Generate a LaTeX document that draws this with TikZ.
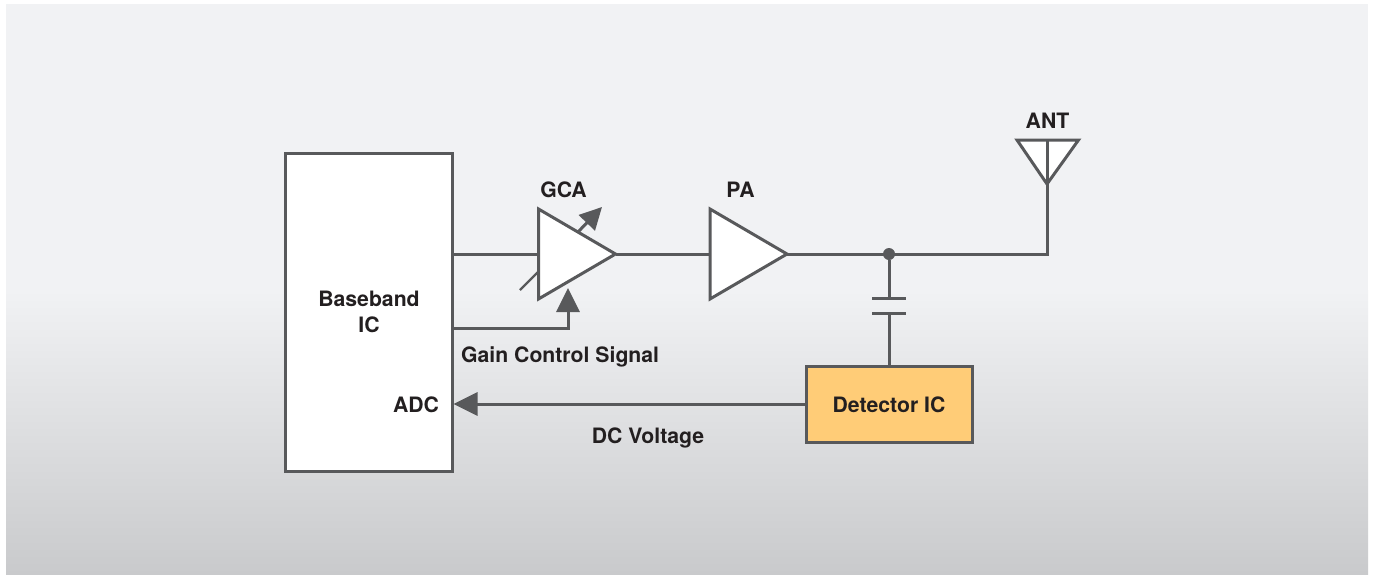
\documentclass[tikz,border=0pt]{standalone}
\usepackage{fontspec}
\setmainfont{TeX Gyre Heros}
\usetikzlibrary{arrows.meta,shapes.geometric}
\definecolor{wirecol}{HTML}{58595B}
\definecolor{labelcol}{HTML}{231F20}
\definecolor{detcol}{HTML}{FFCC77}
\definecolor{bgtop}{HTML}{F1F2F4}
\definecolor{bgbot}{HTML}{C9CACC}
\tikzset{
    wire/.style={line width=3pt, wirecol},
    sig/.style={wire, -{Triangle[length=24pt,width=23pt]}},
    blockbox/.style={draw=wirecol, line width=3pt, fill=white, inner sep=0pt, outer sep=0pt},
    amp/.style={blockbox, isosceles triangle, isosceles triangle stretches, minimum width=90pt, minimum height=77pt, anchor=west},
    lbl/.style={labelcol, inner sep=0pt, align=center, font=\fontsize{21.2}{26}\selectfont\bfseries},
}
\begin{document}
\begin{tikzpicture}[x=1pt, y=-1pt]
        \useasboundingbox (0,0) rectangle (1373,574);
        % Background
        \fill[white] (0,0) rectangle (1373,574);
        \fill[bgtop] (6,4) rectangle (1368,291);
        \shade[top color=bgtop, bottom color=bgbot] (6,290) rectangle (1368,574);

        % Blocks
        \node[blockbox, minimum width=167pt, minimum height=318pt] (baseband) at (368.5,312) {};
        \node[blockbox, fill=detcol, minimum width=166pt, minimum height=76pt] (detector) at (889,404) {};
        \node[amp] (gca) at (538.5,254) {};
        \node[amp] (pa) at (710,254) {};

        % Signal path
        \coordinate (bbout) at (baseband.east |- gca.west);
        \coordinate (junction) at (889,254);
        \coordinate (antbase) at (1047,254);
        \coordinate (anttop) at (1047,140);
        \draw[wire] (bbout) -- (gca.west);
        \draw[wire] (gca.east) -- (pa.west);
        \draw[wire] (pa.east) -- (junction) -- (antbase) -- (anttop);
        \node[circle, fill=wirecol, minimum size=12pt, inner sep=0pt] (dot) at (junction) {};

        % Antenna
        \coordinate (antleft) at (1017,140);
        \coordinate (antright) at (1078.5,140);
        \coordinate (anttip) at (1047,184);
        \fill[white] (antleft) -- (antright) -- (anttip) -- cycle;
        \draw[wire, line join=miter] (antleft) -- (antright) -- (anttip) -- cycle;
        \draw[wire] (anttop) -- (anttip);

        % Capacitor
        \coordinate (capa) at (889,298.5);
        \coordinate (capb) at (889,313.5);
        \draw[wire] (dot) -- (capa);
        \draw[wire] (capb) -- (detector.north);
        \draw[wire, line width=2.6pt] (872,298.5) -- (906,298.5);
        \draw[wire, line width=2.6pt] (872,313.5) -- (906,313.5);

        % Gain controls
        \coordinate (gainout) at (baseband.east |- 0,328);
        \coordinate (gaintip) at (568,288);
        \draw[sig] (gainout) -| (gaintip);
        \coordinate (slashend) at (520,290);
        \coordinate (slashtop) at (538,272);
        \draw[wire, line width=2.4pt] (slashend) -- (slashtop);
        \coordinate (varfoot) at (578,232);
        \coordinate (vartip) at (602,207);
        \draw[wire, -{Triangle[length=22pt,width=22pt]}] (varfoot) -- (vartip);

        % Detector output
        \coordinate (adcin) at (baseband.east |- detector.west);
        \draw[sig, shorten >=1.5pt] (detector.west) -- (adcin);

        % Labels
        \node[lbl] (gcalabel) at (563.5,190) {GCA};
        \node[lbl] (palabel) at (740.5,190) {PA};
        \node[lbl] (antlabel) at (1047.5,121) {ANT};
        \node[lbl] (bblabel) at (369,312) {Baseband\\IC};
        \node[lbl] (adclabel) at (416,404.5) {ADC};
        \node[lbl, anchor=west] (gainlabel) at (461,356.5) {Gain Control Signal};
        \node[lbl] (dclabel) at (648,438) {DC Voltage};
        \node[lbl] (detlabel) at (889,405) {Detector IC};
\end{tikzpicture}
\end{document}
